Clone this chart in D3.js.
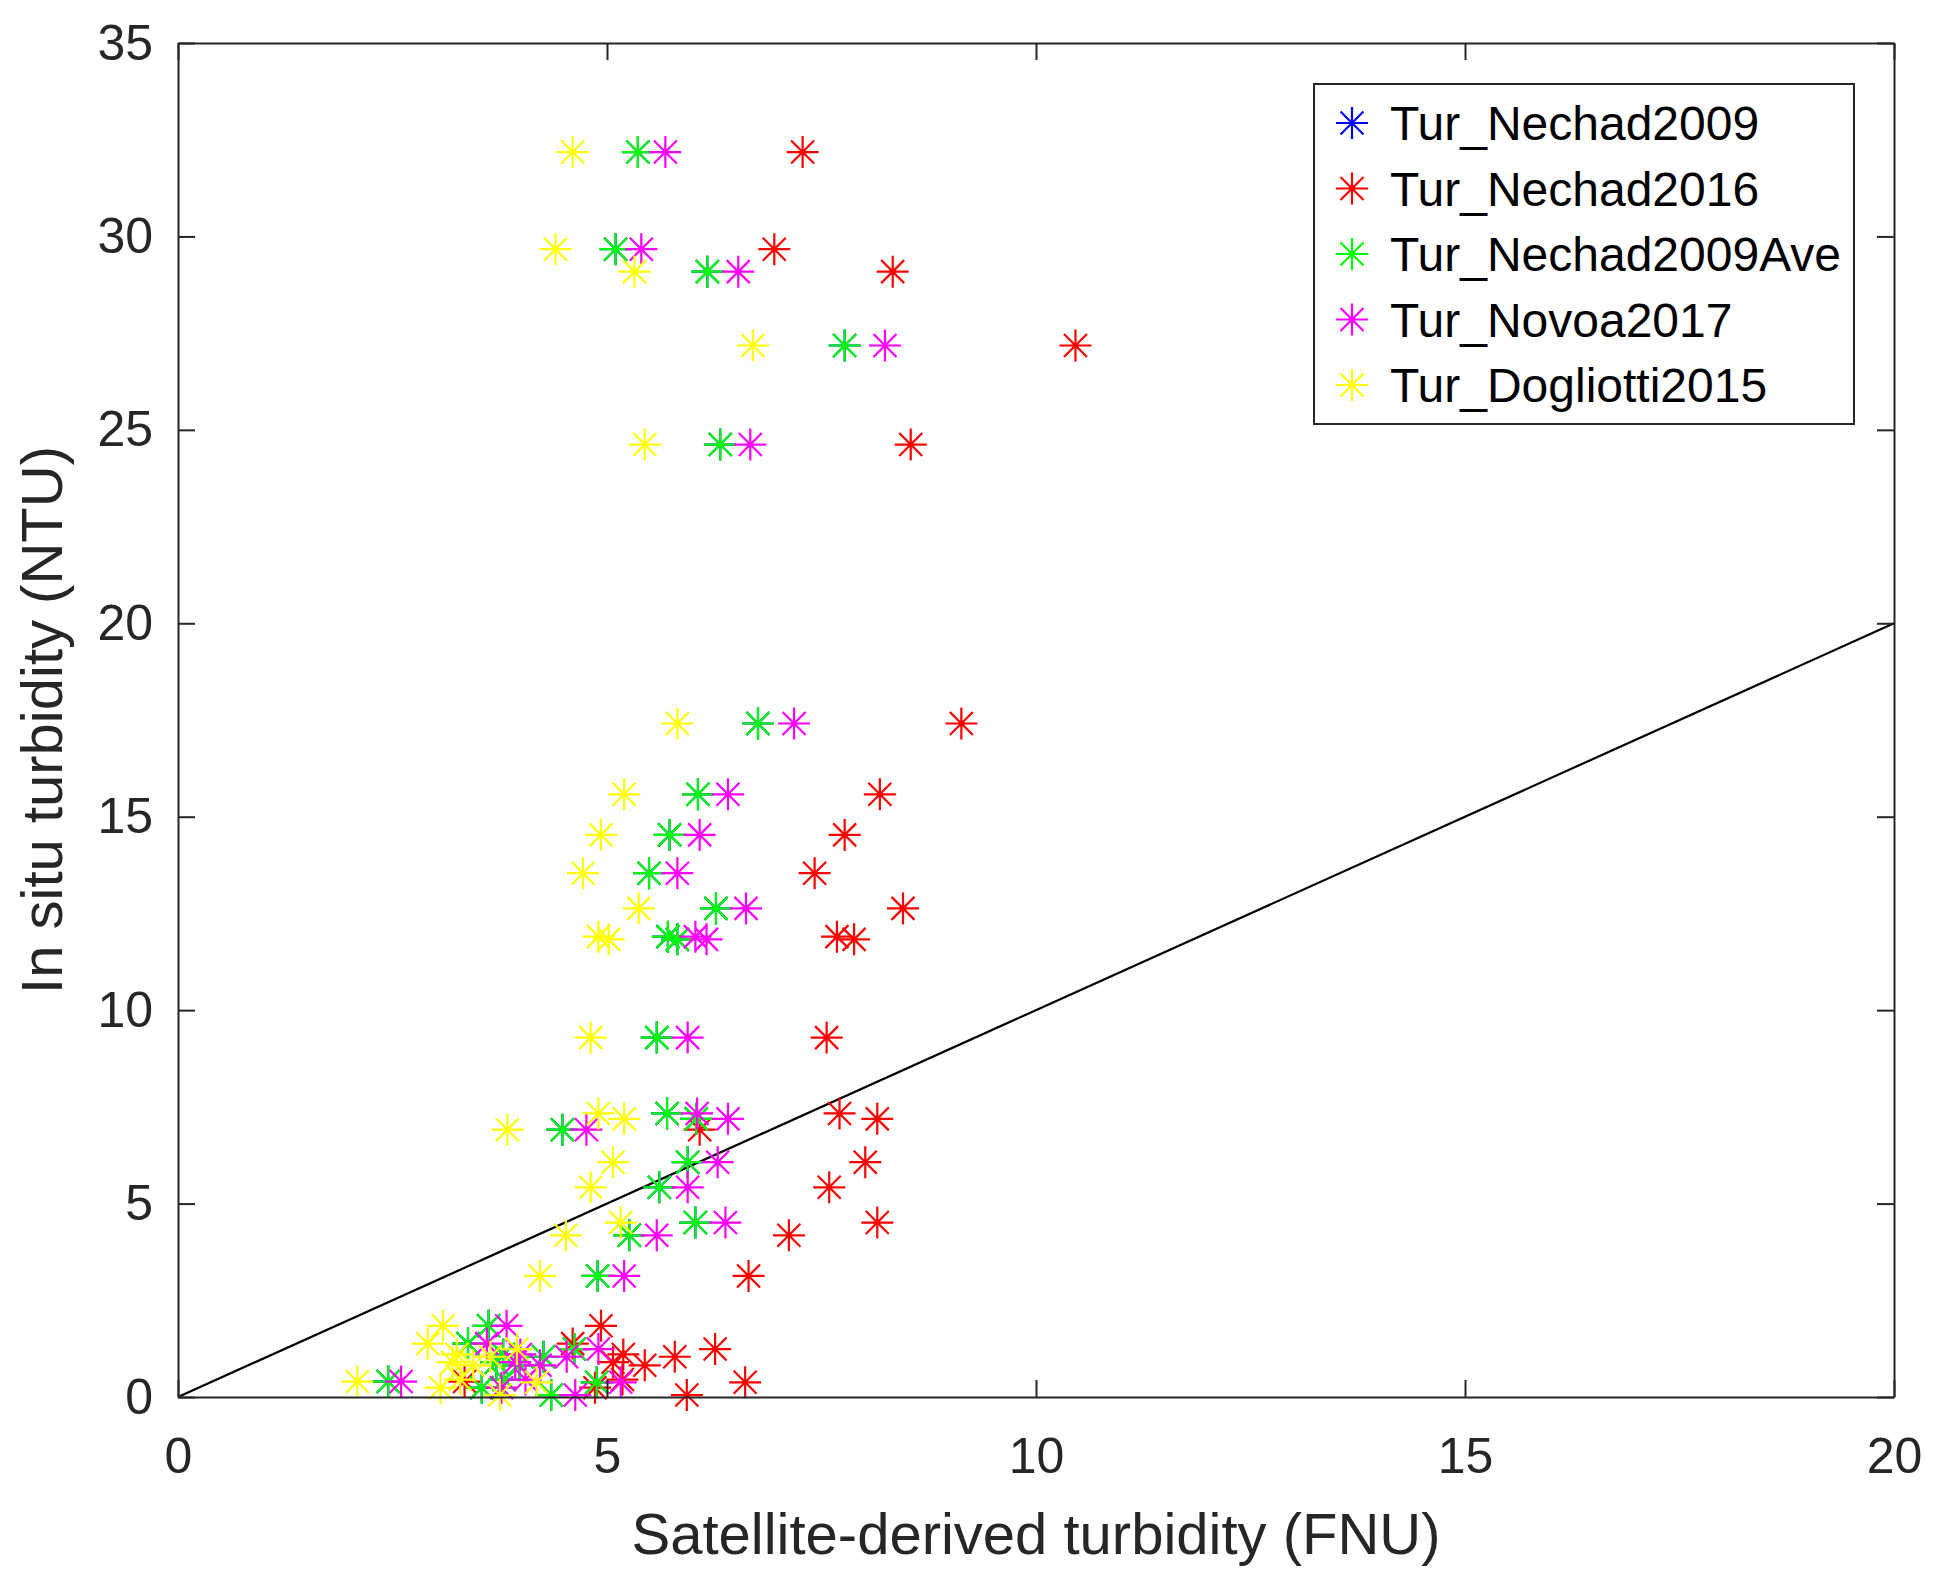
<!DOCTYPE html>
<html>
<head>
<meta charset="utf-8">
<script src="https://cdn.jsdelivr.net/npm/d3@7"></script>
<style>
  body { margin: 0; background: #fff; }
  text { font-family: "Liberation Sans", Arial, sans-serif; }
</style>
</head>
<body>
<div id="chart"></div>
<script>
// in situ turbidity (NTU), one value per sample, shared by every algorithm
var inSitu = [32.18, 29.67, 29.09, 27.18, 24.62, 17.41, 15.58, 14.53, 13.54, 12.63,
              11.90, 11.83, 9.29, 7.33, 7.19, 6.91, 6.07, 5.42, 4.51, 4.18, 3.13,
              1.84, 1.38, 1.10, 0.82, 1.04, 1.24, 0.90, 0.45, 0.05, 0.38, 0.24, 0.40];

// satellite-derived turbidity (FNU) per algorithm, same order as inSitu
var nechad2016 = [7.28, 6.95, 8.33, 10.46, 8.54, 9.13, 8.18, 7.77, 7.42, 8.45,
                  7.68, 7.88, 7.56, 7.71, 8.15, 6.08, 8.01, 7.59, 8.15, 7.12, 6.65,
                  4.93, 4.60, 5.19, 5.44, 5.79, 6.26, 5.07, 5.18, 5.93, 6.61, 4.86, 3.34];
var nechad2009Ave = [5.36, 5.10, 6.17, 7.77, 6.32, 6.76, 6.06, 5.73, 5.49, 6.27,
                     5.71, 5.82, 5.58, 5.70, 6.04, 4.48, 5.94, 5.61, 6.03, 5.26, 4.89,
                     3.62, 3.38, 3.79, 3.98, 4.26, 4.62, 3.71, 3.80, 4.35, 4.88, 3.54, 2.45];
var novoa2017 = [5.68, 5.40, 6.53, 8.24, 6.67, 7.18, 6.41, 6.08, 5.82, 6.62,
                 6.03, 6.16, 5.94, 6.05, 6.41, 4.76, 6.29, 5.94, 6.38, 5.58, 5.20,
                 3.83, 3.60, 3.99, 4.22, 4.53, 4.90, 3.93, 4.05, 4.63, 5.16, 3.77, 2.60];
var dogliotti2015 = [4.60, 4.40, 5.32, 6.70, 5.44, 5.82, 5.20, 4.93, 4.72, 5.37,
                     4.90, 5.02, 4.81, 4.90, 5.20, 3.84, 5.07, 4.81, 5.16, 4.52, 4.22,
                     3.09, 2.91, 3.25, 3.44, 3.64, 3.95, 3.20, 3.29, 3.75, 4.18, 3.06, 2.09];
// blue markers sit exactly under the green ones, so none show in the plot
var nechad2009 = nechad2009Ave.slice();

var seriesNames = ["Tur_Nechad2009", "Tur_Nechad2016", "Tur_Nechad2009Ave", "Tur_Novoa2017", "Tur_Dogliotti2015"];
var seriesColors = ["#0000ff", "#ff0000", "#00ff00", "#ff00ff", "#ffff00"];
var seriesValues = [nechad2009, nechad2016, nechad2009Ave, novoa2017, dogliotti2015];

var xTicks = [0, 5, 10, 15, 20];
var yTicks = [0, 5, 10, 15, 20, 25, 30, 35];
var oneToOne = [0, 20];

var width = 1938, height = 1582;
var margin = {top: 43, right: 44, bottom: 185, left: 178};
var axisColor = "#262626";

var svg = d3.select("#chart")
  .append("svg")
    .attr("width", width)
    .attr("height", height);

var x = d3.scaleLinear().domain([0, 20]).range([margin.left, width - margin.right]);
var y = d3.scaleLinear().domain([0, 35]).range([height - margin.bottom, margin.top]);

// 1:1 line
svg.append("line")
  .attr("x1", x(oneToOne[0])).attr("y1", y(oneToOne[0]))
  .attr("x2", x(oneToOne[1])).attr("y2", y(oneToOne[1]))
  .attr("stroke", "#000")
  .attr("stroke-width", 2.2);

// asterisk marker like matlab '*'
var star = "M-16,0H16M0,-16V16M-11.5,-11.5L11.5,11.5M-11.5,11.5L11.5,-11.5";

seriesValues.forEach(function(vals, k) {
  svg.append("g")
    .selectAll("path")
    .data(vals)
    .enter()
    .append("path")
      .attr("d", star)
      .attr("transform", function(d, i) { return "translate(" + x(d) + "," + y(inSitu[i]) + ")"; })
      .attr("stroke", seriesColors[k])
      .attr("stroke-width", 2.2)
      .attr("fill", "none");
});

// axes, ticks pointing inside on all four sides
function styleAxis(g) {
  g.selectAll("path, line").attr("stroke", axisColor).attr("stroke-width", 2);
  g.selectAll("text")
    .attr("fill", axisColor)
    .style("font-family", "'Liberation Sans', Arial, sans-serif")
    .style("font-size", "50px");
}

svg.append("g")
  .attr("transform", "translate(0," + y(0) + ")")
  .call(d3.axisBottom(x).tickValues(xTicks).tickSizeInner(-17).tickSizeOuter(0).tickPadding(40))
  .call(styleAxis);

svg.append("g")
  .attr("transform", "translate(0," + y(35) + ")")
  .call(d3.axisTop(x).tickValues(xTicks).tickSizeInner(-17).tickSizeOuter(0).tickFormat(""))
  .call(styleAxis);

svg.append("g")
  .attr("transform", "translate(" + x(0) + ",0)")
  .call(d3.axisLeft(y).tickValues(yTicks).tickSizeInner(-17).tickSizeOuter(0).tickPadding(25))
  .call(styleAxis);

svg.append("g")
  .attr("transform", "translate(" + x(20) + ",0)")
  .call(d3.axisRight(y).tickValues(yTicks).tickSizeInner(-17).tickSizeOuter(0).tickFormat(""))
  .call(styleAxis);

// axis titles
svg.append("text")
  .attr("x", (x(0) + x(20)) / 2)
  .attr("y", 1554)
  .attr("text-anchor", "middle")
  .attr("fill", axisColor)
  .attr("font-size", "58px")
  .text("Satellite-derived turbidity (FNU)");

svg.append("text")
  .attr("transform", "translate(62," + (y(0) + y(35)) / 2 + ") rotate(-90)")
  .attr("text-anchor", "middle")
  .attr("fill", axisColor)
  .attr("font-size", "58px")
  .text("In situ turbidity (NTU)");

// legend
var legend = svg.append("g");
legend.append("rect")
  .attr("x", 1314).attr("y", 84)
  .attr("width", 540).attr("height", 340)
  .attr("fill", "#fff")
  .attr("stroke", axisColor)
  .attr("stroke-width", 2);

var items = legend.selectAll("g.item")
  .data(seriesNames)
  .enter()
  .append("g")
    .attr("class", "item")
    .attr("transform", function(d, i) { return "translate(0," + (123 + i * 65.5) + ")"; });

items.append("path")
  .attr("d", star)
  .attr("transform", "translate(1352,0)")
  .attr("stroke", function(d, i) { return seriesColors[i]; })
  .attr("stroke-width", 2.2)
  .attr("fill", "none");

items.append("text")
  .attr("x", 1390)
  .attr("dy", "0.36em")
  .attr("font-size", "48px")
  .attr("fill", "#000")
  .text(function(d) { return d; });
</script>
</body>
</html>
